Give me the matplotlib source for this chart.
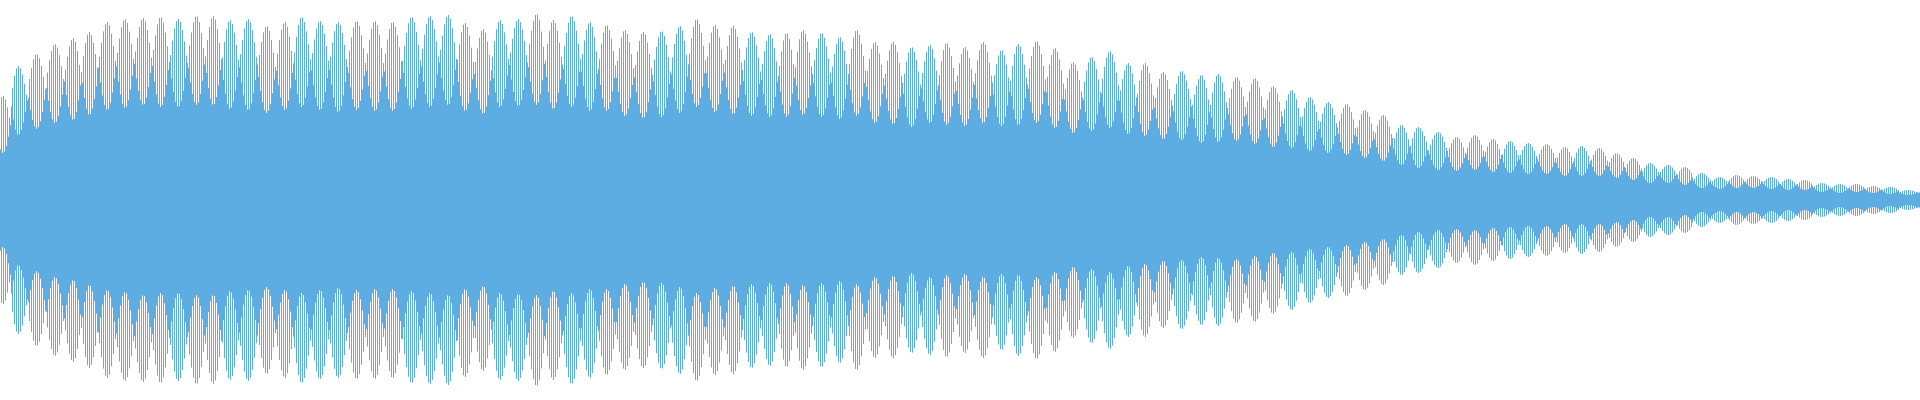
import numpy as np
import matplotlib.pyplot as plt

# waveform drawn as one stroke per pixel column; neighbouring strokes alternate
# long / short, which gives the beating look.

# centre of every beat (column index along the track)
beat_x = [3, 18.3, 36.7, 55, 73.3, 89.3, 107.3, 125, 143.3, 160.7, 178.3, 196.7,
          213.3, 230, 248.3, 266.7, 285, 301.7, 320, 338.3, 356.7, 375, 392.7,
          411.7, 430, 448.3, 465, 483.3, 500, 518.3, 536.7, 553.3, 571.7, 590,
          606.7, 625, 643.3, 661.7, 680, 696.7, 715, 733.3, 751.7, 770, 786.7,
          803, 821.7, 840, 856.7, 875, 893.3, 911.7, 930, 946.7, 965, 983.3,
          1001.7, 1018.3, 1036.7, 1055, 1073.3, 1091.7, 1110, 1128.3, 1145, 1163.3, 1181.7,
          1201.7, 1218.3, 1236.7, 1255, 1273.3, 1291.7, 1310, 1328.3, 1346.7, 1365, 1383.3,
          1401.7, 1418.3, 1438.3, 1456.7, 1475, 1493.3, 1510, 1528.3, 1546.7, 1565, 1581.7, 1599.3,
          1616.7, 1633.3, 1650, 1668.3, 1685, 1701.7, 1720, 1736.7, 1753.3, 1771.7, 1788.3,
          1805, 1821.7, 1840, 1856.7, 1873.3, 1890, 1908.3]

# amplitude of the long strokes at each beat peak (full scale = 200)
peak_outer = [104, 134, 146, 156, 162, 168, 178, 181, 182, 183, 181, 184,
              184, 180, 181, 174, 178, 183, 179, 178, 179, 179, 178,
              183, 184, 185, 177, 171, 180, 181, 186, 180, 184, 178,
              175, 170, 168, 169, 174, 181, 175, 174, 168, 166, 167,
              170, 167, 163, 170, 158, 158, 153, 155, 157, 153, 158,
              150, 156, 159, 152, 138, 143, 149, 137, 137, 128, 129,
              125, 126, 123, 122, 114, 110, 103, 98, 96, 90, 85,
              75, 73, 68, 63, 65, 61, 59, 57, 56, 53, 54, 52,
              47, 42, 37, 35, 33, 27, 23, 25, 24, 23, 21,
              20, 17, 16, 16, 14, 13, 10]

# amplitude of the short strokes at the same beat (edge of the solid core)
peak_inner = [47, 65, 71, 77, 80, 85, 90, 92, 95, 93, 93, 95,
              95, 91, 90, 87, 90, 93, 90, 88, 90, 89, 89,
              91, 93, 95, 89, 86, 93, 94, 95, 91, 93, 89,
              89, 84, 82, 83, 87, 93, 88, 86, 84, 83, 83,
              85, 83, 81, 84, 77, 76, 73, 77, 75, 74, 77,
              74, 75, 77, 72, 67, 69, 72, 66, 64, 61, 60,
              57, 58, 59, 56, 53, 52, 49, 47, 45, 42, 39,
              35, 32, 30, 29, 30, 28, 27, 26, 26, 24, 24, 24,
              22, 20, 17, 17, 15, 12, 11, 12, 12, 11, 10,
              10, 8, 7, 8, 7, 6, 5]

FULL = 200
N_COLS = 1920
COLOR = '#5DADE2'

bx = np.array(beat_x, dtype=float)
outer = np.array(peak_outer, dtype=float)
inner = np.array(peak_inner, dtype=float)

# split the track into beats, boundaries half way between beat centres
bounds = np.concatenate([[bx[0] - (bx[1] - bx[0]) / 2],
                         (bx[1:] + bx[:-1]) / 2,
                         [bx[-1] + (bx[-1] - bx[-2]) / 2]])
cols = np.arange(N_COLS)
c = cols + 0.5
k = np.clip(np.searchsorted(bounds, c) - 1, 0, len(bx) - 1)

left = bx[k] - bounds[k]
right = bounds[k + 1] - bx[k]
half = np.where(c < bx[k], left, right)
phase = np.clip((c - bx[k]) / half, -1, 1) * np.pi / 2

mid = (outer + inner) / 2
dev = (outer - inner) / 2
sign = np.where((cols - np.round(bx[k]).astype(int)) % 2 == 0, 1.0, -1.0)
h = mid[k] + sign * dev[k] * np.cos(phase)

fig = plt.figure(figsize=(19.2, 4), dpi=100)
ax = fig.add_axes([0, 0, 1, 1])
xe = np.arange(N_COLS + 1)
he = np.append(h, h[-1])
ax.fill_between(xe, -he, he, step='post', color=COLOR, linewidth=0)
ax.set_xlim(0, N_COLS)
ax.set_ylim(-FULL, FULL)
ax.axis('off')
fig.savefig('out.png', dpi=100, facecolor='white')
